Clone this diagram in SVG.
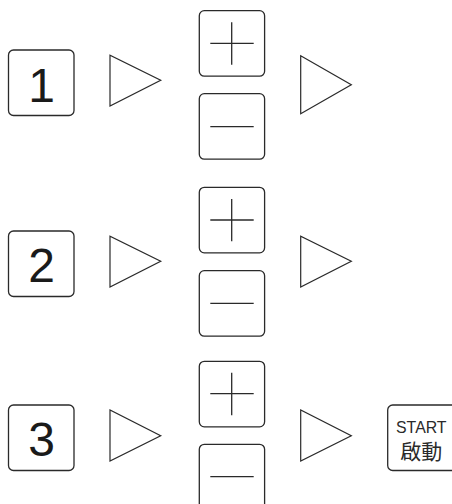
<svg xmlns="http://www.w3.org/2000/svg" width="452" height="504" viewBox="0 0 452 504">
<style>
.k{fill:#fff;stroke:#2a2a2a;stroke-width:1.3}
.l{stroke:#2a2a2a;stroke-width:1.3;fill:none}
.t{fill:none;stroke:#2a2a2a;stroke-width:1.2;stroke-linejoin:miter}
.d{font-family:"Liberation Sans",Arial,sans-serif;font-size:48px;fill:#1a1a1a;text-anchor:middle}
.s{font-family:"Liberation Sans",Arial,sans-serif;font-size:16.5px;fill:#2a2a2a;text-anchor:middle}
.c{font-family:"Noto Sans CJK TC","Noto Sans CJK JP",sans-serif;font-size:21px;fill:#2a2a2a;text-anchor:middle}
</style>
<rect width="452" height="504" fill="#fff"/>
<g id="connectors">
<polygon class="t" points="110,55.3 110,106 160.7,80.3"/>
<polygon class="t" points="300.7,55.7 300.7,113.7 351.3,84.7"/>
<polygon class="t" points="110,236.3 110,287 160.7,261.3"/>
<polygon class="t" points="300.7,236.3 300.7,287 351.3,261.3"/>
<polygon class="t" points="110,410 110,461 160.7,435.7"/>
<polygon class="t" points="300.7,410 300.7,461 351.3,435.7"/>
</g>
<g id="key1"><rect class="k" x="8.5" y="50" width="65.5" height="65.5" rx="5"/><text class="d" x="41.5" y="101.7">1</text></g>
<g id="plus1"><rect class="k" x="199.3" y="10.7" width="65.3" height="65.5" rx="5"/><path class="l" d="M210.3 43.3H253.7M231.7 22.3V64.7"/></g>
<g id="minus1"><rect class="k" x="199.3" y="93.7" width="65.3" height="65.5" rx="5"/><path class="l" d="M210.3 126.7H253.7"/></g>
<g id="key2"><rect class="k" x="8.5" y="231" width="65.5" height="65.5" rx="5"/><text class="d" x="41.5" y="281.7">2</text></g>
<g id="plus2"><rect class="k" x="199.3" y="187.3" width="65.3" height="65.5" rx="5"/><path class="l" d="M210.3 220H253.7M231.7 199V241.3"/></g>
<g id="minus2"><rect class="k" x="199.3" y="270.7" width="65.3" height="65.5" rx="5"/><path class="l" d="M210.3 303.3H253.7"/></g>
<g id="key3"><rect class="k" x="8.5" y="405" width="65.5" height="65.5" rx="5"/><text class="d" x="41.5" y="456">3</text></g>
<g id="plus3"><rect class="k" x="199.3" y="361.3" width="65.3" height="65.5" rx="5"/><path class="l" d="M210.3 393.7H253.7M231.7 372.7V415.3"/></g>
<g id="minus3"><rect class="k" x="199.3" y="444.3" width="65.3" height="65.5" rx="5"/><path class="l" d="M210.3 476.7H253.7"/></g>
<g id="start"><rect class="k" x="387.7" y="405" width="70" height="65.5" rx="5"/><text class="s" x="421.3" y="432.7" textLength="50.5" lengthAdjust="spacingAndGlyphs">START</text><text class="c" x="421.3" y="459">啟動</text></g>
</svg>
